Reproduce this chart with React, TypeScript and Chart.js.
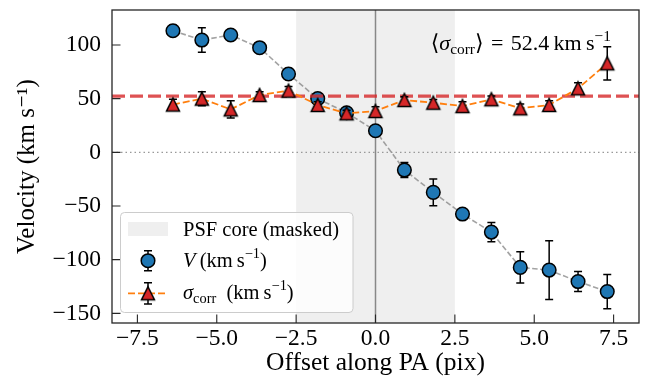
import { useEffect, useRef } from 'react';
import { Chart, registerables } from 'chart.js';

Chart.register(...registerables);

// ---- data ----
const offsets = [-6.38, -5.47, -4.56, -3.65, -2.74, -1.82, -0.91, 0, 0.91, 1.82, 2.74, 3.65, 4.56, 5.47, 6.38, 7.3];
const velocity = [113.3, 104.6, 109.3, 97.5, 73, 50, 36.9, 20.1, -16.5, -37.3, -57.5, -74.3, -107.2, -109.7, -120.4, -129.7];
const velocityErr = [5, 11.4, 4, 4, 5, 4, 4, 4, 7, 12.5, 4, 9, 14.5, 27.4, 9.3, 16];
const sigmaCorr = [44.5, 50, 40, 53.4, 57.4, 44.1, 36.3, 38.5, 48.7, 46.2, 43.1, 49.4, 41, 44.1, 59.6, 82.9];
const sigmaErr = [5, 6.5, 8, 3, 4, 3, 3, 4, 3, 3, 4, 3, 4, 4, 5.2, 15.5];
const meanSigma = 52.4;
const psfCore = [-2.5, 2.5];
const xTicks = [-7.5, -5, -2.5, 0, 2.5, 5, 7.5];
const yTicks = [-150, -100, -50, 0, 50, 100];
const xRange = [-8.3, 8.3];
const yRange = [-159, 132.6];

const FONT = "'Liberation Serif', 'DejaVu Serif', 'Times New Roman', serif";
const SHADE = '#efefef';
const FRAME = '#262626';

type Run = { t: string; it?: boolean; s?: 'sub' | 'sup' };

function drawRuns(ctx: CanvasRenderingContext2D, runs: Run[], x: number, y: number, size: number, align: 'left' | 'right' = 'left') {
  const parts = runs.map((r) => {
    const sz = r.s ? size * 0.7 : size;
    const font = `${r.it ? 'italic ' : ''}${sz}px ${FONT}`;
    ctx.font = font;
    return { ...r, font, w: ctx.measureText(r.t).width, dy: r.s === 'sup' ? -0.42 * size : r.s === 'sub' ? 0.2 * size : 0 };
  });
  const total = parts.reduce((a, p) => a + p.w, 0);
  let cx = align === 'right' ? x - total : x;
  ctx.textBaseline = 'alphabetic';
  ctx.textAlign = 'left';
  ctx.fillStyle = '#000';
  for (const p of parts) {
    ctx.font = p.font;
    ctx.fillText(p.t, cx, y + p.dy);
    cx += p.w;
  }
}

function makeTriangle(size: number, lw: number) {
  const c = document.createElement('canvas');
  const s = Math.ceil(size + lw * 2 + 2);
  c.width = s;
  c.height = s;
  const g = c.getContext('2d')!;
  const cx = s / 2, cy = s / 2, h = size / 2;
  g.beginPath();
  g.moveTo(cx, cy - h);
  g.lineTo(cx + h, cy + h);
  g.lineTo(cx - h, cy + h);
  g.closePath();
  g.fillStyle = '#d62728';
  g.fill();
  g.lineWidth = lw;
  g.strokeStyle = '#000';
  g.lineJoin = 'miter';
  g.stroke();
  return c;
}

function drawErr(ctx: CanvasRenderingContext2D, x: number, y1: number, y2: number, cap: number) {
  ctx.beginPath();
  ctx.moveTo(x, y1);
  ctx.lineTo(x, y2);
  ctx.moveTo(x - cap, y1);
  ctx.lineTo(x + cap, y1);
  ctx.moveTo(x - cap, y2);
  ctx.lineTo(x + cap, y2);
  ctx.stroke();
}

function fmt(v: number, digits: number) {
  const s = digits > 0 ? Math.abs(v).toFixed(digits) : String(Math.abs(v));
  return v < 0 ? '\u2212' + s : s;
}

export default function App() {
  const ref = useRef<HTMLCanvasElement>(null);

  useEffect(() => {
    const canvas = ref.current!;
    const tri = makeTriangle(13, 1.5);

    const errSets: Record<number, { vals: number[]; errs: number[] }> = {
      0: { vals: velocity, errs: velocityErr },
      2: { vals: sigmaCorr, errs: sigmaErr },
    };

    const decor = {
      id: 'decor',
      beforeDatasetsDraw(chart: any) {
        const { ctx, chartArea: a } = chart;
        const xs = chart.scales.x, ys = chart.scales.y;
        ctx.save();
        ctx.beginPath();
        ctx.rect(a.left, a.top, a.right - a.left, a.bottom - a.top);
        ctx.clip();
        const x0 = xs.getPixelForValue(psfCore[0]);
        const x1 = xs.getPixelForValue(psfCore[1]);
        ctx.fillStyle = SHADE;
        ctx.fillRect(x0, a.top, x1 - x0, a.bottom - a.top);
        // dotted zero line
        const yz = ys.getPixelForValue(0);
        ctx.strokeStyle = '#999';
        ctx.lineWidth = 1.3;
        ctx.setLineDash([1.5, 3]);
        ctx.beginPath();
        ctx.moveTo(a.left, yz);
        ctx.lineTo(a.right, yz);
        ctx.stroke();
        ctx.setLineDash([]);
        // vertical zero line
        const xz = xs.getPixelForValue(0);
        ctx.strokeStyle = '#888';
        ctx.lineWidth = 1.5;
        ctx.beginPath();
        ctx.moveTo(xz, a.top);
        ctx.lineTo(xz, a.bottom);
        ctx.stroke();
        ctx.restore();
      },
      beforeDatasetDraw(chart: any, args: any) {
        const set = errSets[args.index];
        if (!set) return;
        const { ctx } = chart;
        const xs = chart.scales.x, ys = chart.scales.y;
        ctx.save();
        ctx.strokeStyle = '#000';
        ctx.lineWidth = 1.5;
        offsets.forEach((x, i) => {
          const px = xs.getPixelForValue(x);
          drawErr(ctx, px, ys.getPixelForValue(set.vals[i] + set.errs[i]), ys.getPixelForValue(set.vals[i] - set.errs[i]), 4);
        });
        ctx.restore();
      },
      afterDatasetsDraw(chart: any) {
        const { ctx, chartArea: a } = chart;
        const xs = chart.scales.x, ys = chart.scales.y;
        ctx.save();
        // inward ticks
        ctx.strokeStyle = FRAME;
        ctx.lineWidth = 1.1;
        ctx.beginPath();
        for (const v of xTicks) {
          const px = xs.getPixelForValue(v);
          ctx.moveTo(px, a.bottom);
          ctx.lineTo(px, a.bottom - 8.5);
        }
        for (const v of yTicks) {
          const py = ys.getPixelForValue(v);
          ctx.moveTo(a.left, py);
          ctx.lineTo(a.left + 8.5, py);
        }
        ctx.stroke();
        // frame
        ctx.lineWidth = 1.3;
        ctx.strokeRect(a.left, a.top, a.right - a.left, a.bottom - a.top);

        // annotation
        drawRuns(ctx, [
          { t: '\u27E8' },
          { t: '\u03C3', it: true },
          { t: 'corr', s: 'sub' },
          { t: '\u27E9\u2004=\u200452.4\u2009km\u2009s' },
          { t: '\u22121', s: 'sup' },
        ], 611, 50, 22, 'right');

        // legend
        const L = { x: 120.5, y: 212.5, w: 232.5, h: 100 };
        ctx.beginPath();
        ctx.roundRect(L.x, L.y, L.w, L.h, 4);
        ctx.fillStyle = 'rgba(255,255,255,0.8)';
        ctx.fill();
        ctx.strokeStyle = '#cccccc';
        ctx.lineWidth = 1;
        ctx.stroke();

        ctx.fillStyle = SHADE;
        ctx.fillRect(128, 222, 40, 14);
        drawRuns(ctx, [{ t: 'PSF core (masked)' }], 183, 235.5, 20.5);

        // V entry
        ctx.strokeStyle = '#000';
        ctx.lineWidth = 1.5;
        drawErr(ctx, 148, 250.7, 270.7, 4);
        ctx.beginPath();
        ctx.arc(148, 260.7, 6.8, 0, Math.PI * 2);
        ctx.fillStyle = '#1f77b4';
        ctx.fill();
        ctx.stroke();
        drawRuns(ctx, [{ t: 'V', it: true }, { t: '\u2009(km\u2009s' }, { t: '\u22121', s: 'sup' }, { t: ')' }], 183, 266.5, 20.5);

        // sigma entry
        ctx.strokeStyle = '#ff7f0e';
        ctx.lineWidth = 1.8;
        ctx.setLineDash([7, 3]);
        ctx.beginPath();
        ctx.moveTo(128, 293.3);
        ctx.lineTo(168, 293.3);
        ctx.stroke();
        ctx.setLineDash([]);
        ctx.strokeStyle = '#000';
        ctx.lineWidth = 1.5;
        drawErr(ctx, 148, 282.7, 304, 4);
        ctx.drawImage(tri, 148 - tri.width / 2, 293.3 - tri.height / 2);
        drawRuns(ctx, [{ t: '\u03C3', it: true }, { t: 'corr', s: 'sub' }, { t: '\u2002(km\u2009s' }, { t: '\u22121', s: 'sup' }, { t: ')' }], 183, 298.5, 20.5);
        ctx.restore();
      },
    };

    const chart = new Chart(canvas, {
      type: 'line',
      data: {
        datasets: [
          {
            label: 'V',
            data: offsets.map((x, i) => ({ x, y: velocity[i] })),
            borderColor: 'rgba(128,128,128,0.72)',
            borderWidth: 1.6,
            borderDash: [5.5, 2.5],
            pointStyle: 'circle',
            pointRadius: 6.8,
            pointBackgroundColor: '#1f77b4',
            pointBorderColor: '#000',
            pointBorderWidth: 1.5,
            order: 2,
          },
          {
            label: 'mean sigma',
            data: xRange.map((x) => ({ x, y: meanSigma })),
            borderColor: 'rgba(214,39,40,0.8)',
            borderWidth: 3.2,
            borderDash: [13, 5],
            pointRadius: 0,
            order: 1,
          },
          {
            label: 'sigma_corr',
            data: offsets.map((x, i) => ({ x, y: sigmaCorr[i] })),
            borderColor: '#ff7f0e',
            borderWidth: 1.8,
            borderDash: [7, 3],
            pointStyle: tri as any,
            pointRadius: 7,
            order: 0,
          },
        ],
      },
      options: {
        animation: false,
        responsive: false,
        devicePixelRatio: 1,
        events: [],
        layout: { padding: { top: 10, right: 15, bottom: 0, left: 0 } },
        plugins: { legend: { display: false }, tooltip: { enabled: false } },
        scales: {
          x: {
            type: 'linear',
            min: xRange[0],
            max: xRange[1],
            grid: { display: false, drawTicks: false },
            border: { display: false },
            ticks: {
              font: { family: FONT, size: 23.5 },
              color: '#000',
              padding: 2,
              maxRotation: 0,
              autoSkip: false,
              callback: (v: any) => fmt(Number(v), 1),
            },
            title: {
              display: true,
              text: 'Offset along PA (pix)',
              font: { family: FONT, size: 25.5 },
              color: '#000',
              padding: { top: 0, bottom: 2 },
            },
            afterBuildTicks: (s: any) => {
              s.ticks = xTicks.map((value) => ({ value }));
            },
            afterFit: (s: any) => {
              s.height = 58;
              s.paddingLeft = 0;
              s.paddingRight = 0;
            },
          },
          y: {
            type: 'linear',
            min: yRange[0],
            max: yRange[1],
            grid: { display: false, drawTicks: false },
            border: { display: false },
            ticks: {
              font: { family: FONT, size: 23.5 },
              color: '#000',
              padding: 11,
              callback: (v: any) => fmt(Number(v), 0),
            },
            title: {
              display: true,
              text: 'Velocity (km s\u207B\u00B9)',
              font: { family: FONT, size: 25 },
              color: '#000',
              padding: { top: 12, bottom: 0 },
            },
            afterBuildTicks: (s: any) => {
              s.ticks = yTicks.map((value) => ({ value }));
            },
            afterFit: (s: any) => {
              s.width = 112;
              s.paddingTop = 0;
              s.paddingBottom = 0;
            },
          },
        },
      },
      plugins: [decor],
    });

    return () => chart.destroy();
  }, []);

  return (
    <div style={{ position: 'absolute', left: 0, top: 0, width: 654, height: 381, background: '#fff' }}>
      <canvas ref={ref} width={654} height={381} style={{ display: 'block' }} />
    </div>
  );
}
